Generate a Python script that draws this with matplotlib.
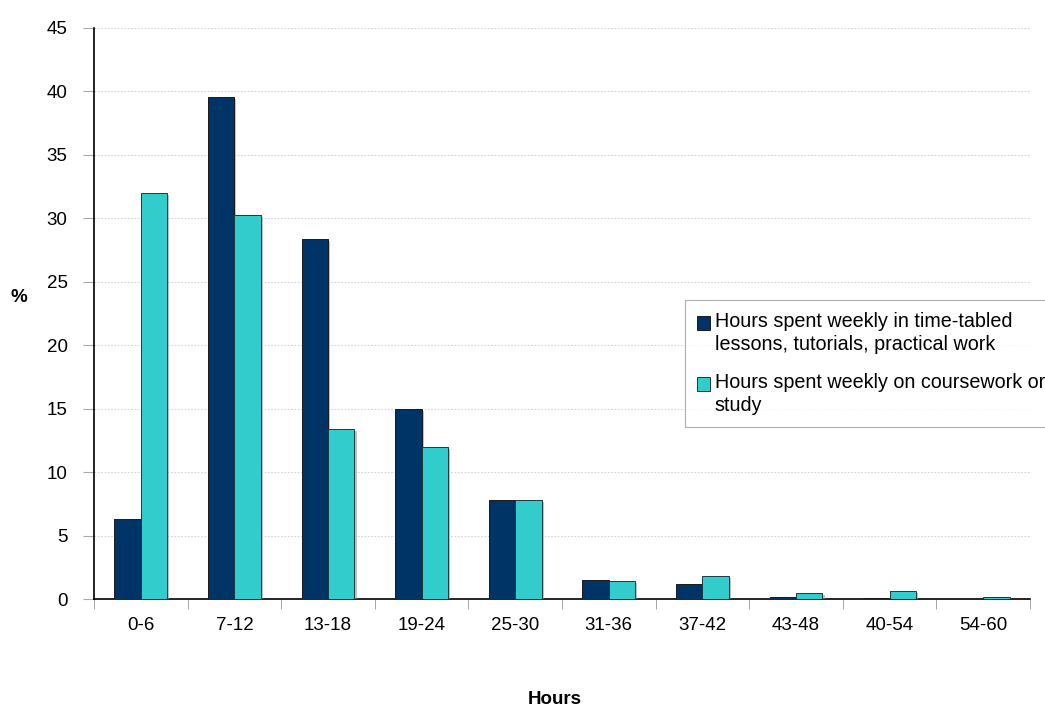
import matplotlib
matplotlib.use("Agg")
import matplotlib.pyplot as plt
import matplotlib.patheffects as pe
from matplotlib.patches import Rectangle
from matplotlib.legend_handler import HandlerPatch
import numpy as np

plt.rcParams['font.family'] = ['Liberation Sans', 'DejaVu Sans']

categories = ["0-6", "7-12", "13-18", "19-24", "25-30", "31-36", "37-42", "43-48", "40-54", "54-60"]
timetabled = [6.3, 39.6, 28.4, 15.0, 7.8, 1.5, 1.15, 0.12, 0.05, 0.02]
coursework = [32.0, 30.3, 13.4, 12.0, 7.8, 1.4, 1.8, 0.45, 0.6, 0.15]
series_names = ["Hours spent weekly in time-tabled\nlessons, tutorials, practical work",
                "Hours spent weekly on coursework or\nstudy"]
yticks = [0, 5, 10, 15, 20, 25, 30, 35, 40, 45]

dark = "#003366"
cyan = "#33CCCC"

fig = plt.figure(figsize=(10.45, 7.06), dpi=100)
ax = fig.add_axes([94/1045, 1-599/706, (1030-94)/1045, (599-28)/706])

x = np.arange(len(categories))
w = 0.283
shadow = [pe.SimplePatchShadow(offset=(1.5, -1.5), shadow_rgbFace='#999999', alpha=0.6), pe.Normal()]
b1 = ax.bar(x - w/2, timetabled, w, color=dark, edgecolor='#1a1a1a', linewidth=0.7, zorder=3, path_effects=shadow)
b2 = ax.bar(x + w/2, coursework, w, color=cyan, edgecolor='#1a3a3a', linewidth=0.7, zorder=3, path_effects=shadow)

ax.set_xlim(-0.5, len(categories) - 0.5)
ax.set_ylim(0, 45)
ax.set_yticks(yticks)
ax.set_yticklabels([str(v) for v in yticks], fontsize=13.5)
ax.set_xticks(x)
ax.set_xticklabels(categories, fontsize=13.5)
ax.tick_params(axis='x', length=0, pad=13)
ax.set_xticks(np.arange(-0.5, len(categories), 1), minor=True)
ax.tick_params(axis='x', which='minor', length=7, color='#999999', direction='out')
ax.tick_params(axis='y', length=8, color='#aaaaaa', direction='out', pad=11)

ax.grid(axis='y', color='#d4d4d4', linestyle=(0, (1.5, 1.5)), linewidth=0.8, zorder=0)
for s in ['top', 'right']:
    ax.spines[s].set_visible(False)
ax.spines['left'].set_color('black')
ax.spines['bottom'].set_color('black')
ax.spines['left'].set_linewidth(1.2)
ax.spines['bottom'].set_linewidth(1.2)

fig.text(19/1045, 1-298/706, "%", fontsize=13.5, fontweight='bold', ha='center', va='center')
fig.text(555/1045, 1-699/706, "Hours", fontsize=13.5, fontweight='bold', ha='center', va='center')


def top_square(legend, orig_handle, xdescent, ydescent, width, height, fontsize):
    return Rectangle((-xdescent, -ydescent + 7.5), width, height)


h1 = b1.patches[0]
h2 = b2.patches[0]
hm = {h: HandlerPatch(patch_func=top_square) for h in (h1, h2)}
leg = fig.legend([h1, h2], series_names, loc='upper left',
                 bbox_to_anchor=(685/1045, 1-300/706), fontsize=14.2,
                 frameon=True, fancybox=False, edgecolor='#999999',
                 handlelength=0.68, handleheight=0.68, handletextpad=0.22,
                 labelspacing=0.95, borderpad=0.6, borderaxespad=0,
                 handler_map=hm)
for t in leg.get_texts():
    t.set_linespacing(1.27)
for p in leg.get_patches():
    p.set_path_effects([])
leg.get_frame().set_linewidth(0.8)

fig.savefig("out.png", dpi=100)
